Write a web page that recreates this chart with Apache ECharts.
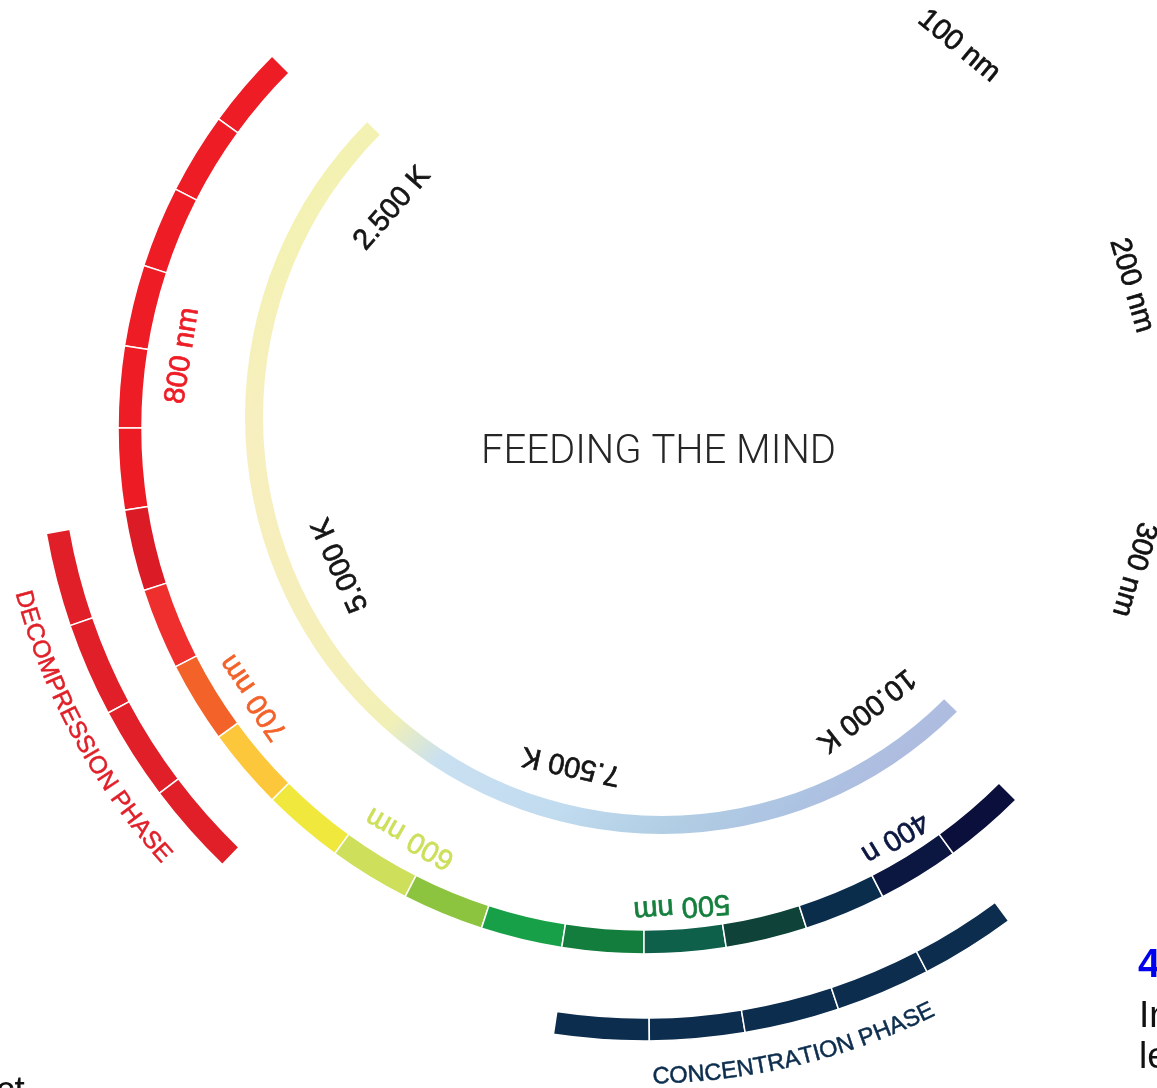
<!DOCTYPE html>
<html><head><meta charset="utf-8">
<script src="https://cdn.jsdelivr.net/npm/echarts@6/dist/echarts.min.js"></script>
<style>html,body{margin:0;padding:0;background:#fff;overflow:hidden}#chart{width:1157px;height:1088px;}</style>
</head><body><div id="chart"></div>
<script>
// ---------------- data (degrees, math convention: 0 = right, counter-clockwise) ----------------
const spectrumStartDeg = 135;
const spectrumSpans = [9,9,9,9,9,9,9,9,9,9,9,9,9,9,9,9,9,9,9,9];
const kelvinStartDeg = 135;
const kelvinSpans = [180];
const decompressionStartDeg = 190;
const decompressionSpans = [9,9,9,9];
const concentrationStartDeg = 261.5;
const concentrationSpans = [9,9,9,9,9];

const wavelengthTicks = ['100 nm','200 nm','300 nm','400 n','500 nm','600 nm','700 nm','800 nm'];
const wavelengthTickAngles = [50.5, 16.3, 343.9, 301.5, 274.5, 240.3, 214.6, 171.1];
const kelvinTicks = ['2.500 K','5.000 K','7.500 K','10.000 K'];
const kelvinTickAngles = [138.9, 204.3, 257.8, 308.2];
const phaseNames = ['DECOMPRESSION PHASE','CONCENTRATION PHASE'];
const phaseLabelAngles = [208.4, 283.6];
const centerTitle = 'FEEDING THE MIND';

// ---------------- styles / layout ----------------
const CX = 644, CY = 428;          // centre of spectrum / phase rings
const KX = 662, KY = 417;          // centre of the colour-temperature ring
const spectrumColors = ['#ee1c25','#ee1c25','#ee1c25','#ee1c25','#ee1c25','#ed1c24','#db1c26','#ef2f2e',
  '#f26229','#fdc73c','#f1e83e','#cddf5b','#8dc43f','#18a049','#137d3d','#0f604b','#0f4238','#0b2d4c','#0b1740','#0b0f3b'];
const decompressionColor = '#e01f28';
const concentrationColor = '#0c2d4d';
const wavelengthTickColors = ['#111111','#111111','#111111','#0b1740','#157f3d','#cddf5b','#f26229','#ee1c25'];
const wavelengthTickRadii = [495, 508, 510, 480, 480, 472, 474, 467];
const kelvinTickRadii = [334, 333, 345, 359];
const kelvinTickColor = '#151515';
const phaseColors = [decompressionColor, concentrationColor];
const phaseLabelRadii = [643, 649];
const phaseFontSizes = [24.5, 23.5];
const FONT = '"Liberation Sans", Arial, Helvetica, sans-serif';

function arcSeries(id, center, startDeg, spans, colorFn, r0, r1, border) {
  const total = spans.reduce((a, b) => a + b, 0);
  const data = spans.map((v, i) => ({ value: v, name: id + i, itemStyle: { color: colorFn(i) } }));
  data.push({ value: 360 - total, name: id + '-gap', itemStyle: { color: 'rgba(0,0,0,0)', borderWidth: 0 } });
  return {
    type: 'pie', id, center, radius: [r0, r1], startAngle: startDeg, clockwise: false,
    silent: true, animation: false, label: { show: false }, labelLine: { show: false },
    itemStyle: { borderColor: '#ffffff', borderWidth: border }, emphasis: { disabled: true },
    data
  };
}

const KR = 408, k = Math.SQRT1_2;
const kelvinGradient = new echarts.graphic.LinearGradient(
  KX - KR * k, KY - KR * k, KX + KR * k, KY + KR * k,
  [
    { offset: 0, color: '#f3f2b2' },
    { offset: 0.15, color: '#f7efbf' },
    { offset: 0.45, color: '#f5efb9' },
    { offset: 0.53, color: '#f1f0b6' },
    { offset: 0.605, color: '#c9e0f1' },
    { offset: 0.75, color: '#c1dbef' },
    { offset: 0.86, color: '#b1cee4' },
    { offset: 0.95, color: '#adc3e2' },
    { offset: 1, color: '#aebce0' }
  ], true);

const labelBase = { show: true, position: 'inside', formatter: '{b}', fontFamily: FONT, align: 'center',
  verticalAlign: 'middle', opacity: 1, textShadowBlur: 0 };

function labelSeries(id, texts, angles, radii, colors, fontSize, rotOffset, strokeW) {
  return {
    type: 'scatter', id, coordinateSystem: 'polar', polarIndex: 0, symbolSize: 1, silent: true, animation: false,
    itemStyle: { color: 'rgba(0,0,0,0)', opacity: 1 },
    emphasis: { disabled: true },
    label: Object.assign({}, labelBase, { fontSize }),
    data: texts.map((t, i) => ({
      name: t, value: [radii[i], angles[i]],
      label: { rotate: angles[i] + rotOffset, color: colors[i], textBorderColor: colors[i], textBorderWidth: strokeW }
    }))
  };
}

// curved text: one glyph per point, laid out along the circle by the polar scales
const measureCtx = document.createElement('canvas').getContext('2d');
function curvedLabelSeries(id, text, midDeg, r, fontSize, color, strokeW) {
  measureCtx.font = fontSize + 'px ' + FONT;
  const chars = Array.from(text);
  const widths = chars.map(ch => measureCtx.measureText(ch).width);
  const W = widths.reduce((a, b) => a + b, 0);
  let s = 0;
  const data = chars.map((ch, i) => {
    const c = s + widths[i] / 2; s += widths[i];
    const ang = midDeg + (c - W / 2) / r * 180 / Math.PI;
    return { name: ch, value: [r, ang], label: { rotate: ang + 90 } };
  });
  return {
    type: 'scatter', id, coordinateSystem: 'polar', polarIndex: 0, symbolSize: 1, silent: true, animation: false,
    itemStyle: { color: 'rgba(0,0,0,0)', opacity: 1 },
    emphasis: { disabled: true },
    label: Object.assign({}, labelBase, { fontSize, color, textBorderColor: color, textBorderWidth: strokeW }),
    data
  };
}

const chart = echarts.init(document.getElementById('chart'), null, { renderer: 'canvas' });
chart.setOption({
  backgroundColor: '#ffffff',
  animation: false,
  polar: [{ center: [CX, CY], radius: 700 }],
  angleAxis: [{ polarIndex: 0, type: 'value', min: 0, max: 360, startAngle: 0, clockwise: false, show: false, splitLine: { show: false } }],
  radiusAxis: [{ polarIndex: 0, type: 'value', min: 0, max: 700, show: false, splitLine: { show: false } }],
  series: [
    arcSeries('kelvin', [KX, KY], kelvinStartDeg, kelvinSpans, () => kelvinGradient, 399, 417, 0),
    arcSeries('spectrum', [CX, CY], spectrumStartDeg, spectrumSpans, i => spectrumColors[i], 502, 526, 1.5),
    arcSeries('decompression', [CX, CY], decompressionStartDeg, decompressionSpans, () => decompressionColor, 583, 607, 1.5),
    arcSeries('concentration', [CX, CY], concentrationStartDeg, concentrationSpans, () => concentrationColor, 590, 613, 1.5),
    labelSeries('wavelength', wavelengthTicks, wavelengthTickAngles, wavelengthTickRadii, wavelengthTickColors, 29, -90, 0.7),
    labelSeries('kelvinTicks', kelvinTicks, kelvinTickAngles, kelvinTickRadii, kelvinTicks.map(() => kelvinTickColor), 29, -90, 0.7),
    curvedLabelSeries('phase0', phaseNames[0], phaseLabelAngles[0], phaseLabelRadii[0], phaseFontSizes[0], phaseColors[0], 0.5),
    curvedLabelSeries('phase1', phaseNames[1], phaseLabelAngles[1], phaseLabelRadii[1], phaseFontSizes[1], phaseColors[1], 0.5)
  ],
  graphic: [
    { type: 'text', x: 658.5, y: 453, silent: true,
      style: { text: centerTitle, fontSize: 40, fontWeight: 300, fontFamily: 'Roboto, "Liberation Sans", sans-serif', fill: '#262626', align: 'center', verticalAlign: 'middle' } },
    { type: 'text', x: 1138, y: 966, silent: true,
      style: { text: '4', fontSize: 40, fontWeight: 'bold', fontFamily: FONT, fill: '#0000ee', verticalAlign: 'middle' } },
    { type: 'text', x: 1139, y: 1017, silent: true,
      style: { text: 'In', fontSize: 37, fontFamily: FONT, fill: '#111', verticalAlign: 'middle' } },
    { type: 'text', x: 1139, y: 1058, silent: true,
      style: { text: 'le', fontSize: 37, fontFamily: FONT, fill: '#111', verticalAlign: 'middle' } },
    { type: 'text', x: -4, y: 1092, silent: true,
      style: { text: 'ct', fontSize: 37, fontFamily: FONT, fill: '#111', verticalAlign: 'middle' } }
  ]
});
</script></body></html>
